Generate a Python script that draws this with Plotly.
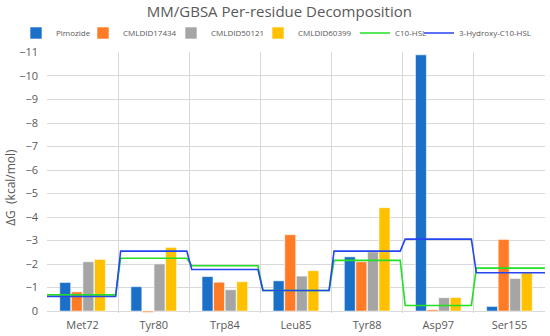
import plotly.graph_objects as go

categories = ["Met72", "Tyr80", "Trp84", "Leu85", "Tyr88", "Asp97", "Ser155"]
pimozide = [-1.22, -1.04, -1.47, -1.29, -2.31, -10.9, -0.20]
cmldid17434 = [-0.82, 0.06, -1.23, -3.25, -2.10, -0.06, -3.05]
cmldid50121 = [-2.10, -2.01, -0.91, -1.49, -2.52, -0.57, -1.39]
cmldid60399 = [-2.20, -2.71, -1.25, -1.72, -4.40, -0.58, -1.63]
c10_hsl = [-0.69, -2.25, -1.93, -0.88, -2.16, -0.24, -1.83]
hydroxy_c10_hsl = [-0.62, -2.55, -1.77, -0.88, -2.55, -3.06, -1.63]
y_ticks = list(range(0, -12, -1))

bar_series = [
    ("Pimozide", pimozide, "#1A70C8"),
    ("CMLDID17434", cmldid17434, "#FF7B25"),
    ("CMLDID50121", cmldid50121, "#A5A5A5"),
    ("CMLDID60399", cmldid60399, "#FFC000"),
]
line_series = [
    ("C10-HSL", c10_hsl, "#22E022"),
    ("3-Hydroxy-C10-HSL", hydroxy_c10_hsl, "#2545F0"),
]
# approximate left edge (px) of each legend entry's text
legend_text_x = [64, 131, 219, 306, 403, 467]

W, H = 550, 336
xpos = list(range(len(categories)))
fig = go.Figure()
k = 0
for name, vals, col in bar_series:
    lg = "legend" if k == 0 else f"legend{k+1}"
    fig.add_trace(go.Bar(x=xpos, y=vals, name=name, marker_color=col,
                         marker_line=dict(color="white", width=0.6), legend=lg))
    k += 1

eps = 0.035
n = len(categories)
for name, vals, col in line_series:
    xs, ys = [], []
    for i, v in enumerate(vals):
        x0 = i - 0.5 + (eps if i > 0 else 0)
        x1 = i + 0.5 - (eps if i < n - 1 else 0)
        xs += [x0, x1]
        ys += [v, v]
    lg = f"legend{k+1}"
    fig.add_trace(go.Scatter(x=xs, y=ys, mode="lines", name=name,
                             line=dict(color=col, width=1.6), legend=lg))
    k += 1

legends = {}
for j, tx in enumerate(legend_text_x):
    key = "legend" if j == 0 else f"legend{j+1}"
    legends[key] = dict(
        xref="container", yref="container",
        x=(tx - 48) / W, xanchor="left",
        y=1 - 33 / H, yanchor="middle",
        font=dict(size=8, color="#595959"), bgcolor="rgba(0,0,0,0)",
        borderwidth=0, itemwidth=30,
    )

fig.update_layout(
    width=W, height=H,
    margin=dict(l=47, r=5, t=52, b=23, autoexpand=False),
    paper_bgcolor="white", plot_bgcolor="white",
    barmode="group", bargap=0.35, bargroupgap=0.05,
    font=dict(family="Open Sans, Liberation Sans, sans-serif", color="#595959", size=11),
    title=dict(text="MM/GBSA Per-residue Decomposition", x=0.508, xanchor="center",
               y=1 - 12 / H, yanchor="middle", font=dict(size=15, color="#595959")),
    showlegend=True,
    annotations=[dict(text="ΔG  (kcal/mol)", textangle=-90, showarrow=False,
                      xref="paper", yref="paper", x=-0.072, y=0.48,
                      xanchor="center", yanchor="middle",
                      font=dict(size=12, color="#595959"))],
    **legends,
)
fig.update_xaxes(
    range=[-0.5, n - 0.5], tickvals=xpos, ticktext=categories,
    showgrid=False, zeroline=False, showline=False, ticks="",
    tickfont=dict(size=11, color="#595959"), ticklabelstandoff=4,
    minor=dict(tick0=-0.5, dtick=1, showgrid=True, gridcolor="#D9D9D9", gridwidth=1, ticks=""),
)
fig.update_yaxes(
    range=[0.08, -11.02], tickvals=y_ticks, showgrid=True, gridcolor="#D9D9D9",
    zeroline=True, zerolinecolor="#D9D9D9", zerolinewidth=1,
    tickfont=dict(size=11, color="#595959"), ticks="", ticklabelstandoff=8,
)
fig.write_html("out.html", config={"displayModeBar": False},
               post_script="document.body.style.margin='0';document.body.style.padding='0';")
